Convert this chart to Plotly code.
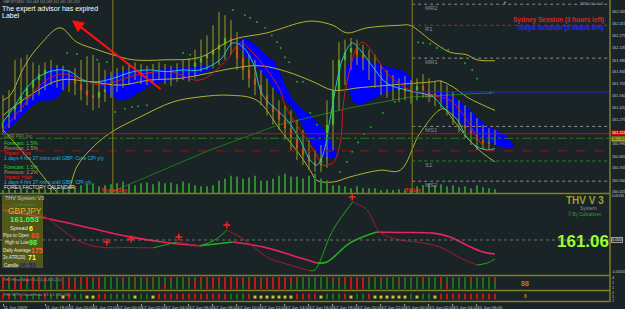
import plotly.graph_objects as go

# ---------------- DATA ----------------
bar_idx = list(range(83))
opens = [161.18,161.25,161.33,161.45,161.56,161.66,161.75,161.82,161.87,161.83,
         161.80,161.73,161.77,161.70,161.63,161.57,161.54,161.61,161.68,161.73,
         161.77,161.82,161.86,161.85,161.81,161.83,161.87,161.85,161.80,161.83,
         161.87,161.85,161.89,161.96,162.01,162.05,162.11,162.17,162.25,162.17,
         162.01,161.87,161.77,161.69,161.57,161.45,161.37,161.28,161.18,161.06,
         160.94,160.86,160.78,160.74,160.82,161.22,161.63,161.99,162.08,162.13,
         162.05,161.96,161.87,161.77,161.70,161.66,161.63,161.66,161.61,161.63,
         161.68,161.63,161.58,161.56,161.51,161.42,161.33,161.28,161.18,161.11,
         161.04,161.00,161.09]
closes = [161.25,161.33,161.45,161.56,161.66,161.75,161.82,161.87,161.83,161.80,
          161.73,161.77,161.70,161.63,161.57,161.54,161.61,161.68,161.73,161.77,
          161.82,161.86,161.85,161.81,161.83,161.87,161.85,161.80,161.83,161.87,
          161.85,161.89,161.96,162.01,162.05,162.11,162.17,162.25,162.17,162.01,
          161.87,161.77,161.69,161.57,161.45,161.37,161.28,161.18,161.06,160.94,
          160.86,160.78,160.74,160.82,161.22,161.63,161.99,162.08,162.13,162.05,
          161.96,161.87,161.77,161.70,161.66,161.63,161.66,161.61,161.63,161.68,
          161.63,161.58,161.56,161.51,161.42,161.33,161.28,161.18,161.11,161.04,
          161.00,161.09,161.05]
highs = [161.57,161.63,161.99,162.01,162.05,161.96,161.93,161.96,161.99,161.93,
         161.92,161.87,161.89,161.99,162.01,162.05,161.96,161.87,161.85,161.89,
         161.92,161.95,161.96,161.94,161.92,161.94,161.96,161.94,161.92,161.95,
         161.99,162.01,162.11,162.23,162.28,162.40,162.56,162.52,162.46,162.32,
         162.23,162.05,161.99,161.87,161.77,161.66,161.51,161.45,161.39,161.28,
         161.16,161.04,160.92,160.98,161.51,161.99,162.20,162.23,162.25,162.23,
         162.17,162.11,162.05,161.93,161.87,161.81,161.77,161.80,161.75,161.77,
         161.82,161.77,161.73,161.75,161.69,161.61,161.51,161.45,161.37,161.30,
         161.22,161.18,161.16]
lows = [161.10,161.18,161.28,161.37,161.45,161.51,161.57,161.63,161.69,161.66,
        161.63,161.61,161.57,161.51,161.45,161.39,161.42,161.49,161.54,161.61,
        161.66,161.69,161.75,161.70,161.69,161.73,161.75,161.70,161.68,161.73,
        161.75,161.73,161.77,161.85,161.87,161.89,161.93,161.99,162.05,161.87,
        161.75,161.66,161.57,161.45,161.33,161.22,161.16,161.04,160.92,160.80,
        160.74,160.68,160.66,160.66,160.71,160.92,161.39,161.69,161.87,161.93,
        161.87,161.75,161.66,161.57,161.54,161.51,161.49,161.51,161.47,161.51,
        161.54,161.49,161.44,161.42,161.33,161.22,161.13,161.06,160.98,160.92,
        160.92,160.92,160.98]
volumes = [30,40,30,50,40,30,50,40,60,40,50,60,70,
           80,90,100,70,80,90,100,120,90,80,100,110,90,120,100,110,90,120,100,80,
           70,70,80,130,150,180,170,150,160,180,130,130,150,180,200,170,170,150,180,200,
           150,130,80,80,70,50,70,50,50,50,30,40,30,40,
           40,50,70,80,100,80,90,70,80,60,70,50,80,60,50,40]

# moving averages (bar index, price)
ma_fast_x = [0,2,4,6.2,9,11.2,13.3,15.7,18.3,21.7,24.5,27.3,30,32.8,36.2,38.3,40,41.7,43.3,47.3,49.5,51.2,52.3,53.3,54.5,55.7,56.7,58.2,59.5,61.7,64,67.3,71.7,73.3,75.7,77.3,79,80.8,82]
ma_fast_y = [161.25,161.45,161.66,161.80,161.87,161.85,161.75,161.73,161.77,161.85,161.87,161.85,161.87,161.87,161.99,162.19,162.14,161.95,161.57,161.28,161.04,160.80,160.74,160.86,161.28,161.75,162.02,162.19,162.11,161.90,161.71,161.63,161.55,161.43,161.28,161.07,160.96,160.92,160.94]
ma_slow_x = [0,2.8,6.2,9.5,12.8,16.2,19.5,22.8,27.8,32.8,37.3,39.5,41.7,44,46.2,47,49.5,52.3,53.3,55,56.2,56.8,57.8,59,60,61.7,64,67.8,71.2,74.5,77.3,79,80.7,82]
ma_slow_y = [161.16,161.39,161.69,161.82,161.77,161.69,161.75,161.82,161.85,161.75,161.99,162.19,162.07,161.87,161.63,161.45,161.16,160.86,160.74,160.77,161.00,161.51,161.87,162.14,162.20,162.07,161.83,161.63,161.57,161.51,161.28,161.07,160.92,160.92]
ma_long_x = [15,24.5,34.5,46,57.8,68,82]
ma_long_y = [160.33,160.62,160.92,161.22,161.42,161.55,161.60]

# Bollinger bands
bb_up_x = [0,1.2,3.7,6.2,9.5,12.3,15.7,18.3,21.7,27,32.8,38.3,44,49.5,51.7,55,57.3,60.7,66.2,67.8,71.7,74.5,77.3,79,82]
bb_up_y = [161.51,161.57,161.93,162.17,162.37,162.20,162.11,162.05,161.99,161.99,162.02,162.23,162.31,162.43,162.45,162.40,162.31,162.37,162.40,162.40,162.20,162.08,162.05,161.99,161.98]
bb_mid_x = [0,4.5,9.5,14.5,19.5,24.5,29.5,32.8,38.3,42.8,47.3,51.7,55,59.5,66.2,71.7,72.8,75,77.3,79.5,82]
bb_mid_y = [161.33,161.57,161.75,161.73,161.69,161.75,161.77,161.81,161.89,161.92,161.85,161.73,161.63,161.66,161.70,161.73,161.74,161.67,161.55,161.47,161.39]
bb_lo_x = [0,4.5,8.7,10.3,12.3,14.5,17.8,22.8,28.3,32.8,37.8,42.3,46.2,49.5,51.2,52.3,55,57.8,62.8,66.2,69.5,73.3,75,77.3,80,82]
bb_lo_y = [161.16,160.80,160.44,160.36,160.72,160.92,161.12,161.31,161.49,161.55,161.57,161.51,161.16,160.86,160.68,160.56,160.54,160.60,160.68,160.68,161.12,161.41,161.28,161.07,160.88,160.78]

# parabolic SAR dots
sar_x = [10.7,12.3,14,15.7,17.3,18.7,20.3,21.5,22.5,24,30,31.2,32.3,38.3,40.3,41.2,42.3,43.7,44.8,45.7,46.3,47,47.7,49,50,51.2,52.3,56.2,57.3,58.2,59.2,60.2,61.3,63.3,65.3,69.2,70,71.2,72.3,73.2,74.2,76.2,77,78.2,79,81.2]
sar_y = [162.07,162.06,162.02,161.99,161.96,161.37,161.41,161.43,161.44,161.45,162.07,162.05,162.01,162.58,162.52,162.49,162.44,162.37,162.28,162.20,162.13,162.02,161.96,161.73,161.73,161.36,161.22,160.66,160.78,160.90,161.01,161.11,161.19,161.36,161.49,162.20,162.19,162.18,162.13,162.13,162.11,162.01,161.95,161.87,161.77,161.60]

# blue cloud segments: (x, top, bottom)
clouds = [
    ([0,1.2,2.8,4.5,5.7,6.7,7.8,9,10,11.2,11.8],
     [161.25,161.33,161.45,161.57,161.63,161.75,161.89,161.90,161.89,161.85,161.80],
     [161.10,161.18,161.30,161.42,161.49,161.51,161.51,161.54,161.63,161.75,161.77]),
    ([16.2,17.8,19.5,21.2,22.8,24.5,27.8,31.2,33.7,34.8],
     [161.73,161.81,161.85,161.87,161.87,161.87,161.89,161.90,161.92,161.90],
     [161.70,161.57,161.51,161.54,161.61,161.69,161.75,161.77,161.85,161.89]),
    ([39.2,40.3,42,43.7,45.3,47,48.3,49.5,51.2,52.8,54.5,55.7],
     [162.20,162.25,162.17,162.05,161.96,161.69,161.51,161.42,161.33,161.22,161.04,160.86],
     [162.17,162.05,161.93,161.80,161.63,161.52,161.42,161.28,161.02,160.86,160.82,160.84]),
    ([57,58.2,59.5,61.2,62.8,64.8,67,68.2],
     [161.87,162.01,162.02,161.96,161.93,161.89,161.85,161.75],
     [161.85,161.51,161.45,161.51,161.57,161.63,161.66,161.73]),
    ([72.3,73.7,75.3,77,78.7,80.3,82,83.7,85],
     [161.61,161.60,161.54,161.45,161.33,161.22,161.16,161.10,160.98],
     [161.57,161.45,161.33,161.22,161.10,161.04,160.98,160.94,160.96]),
]

# horizontal levels
pivot_names = ["MR2", "R1", "MR1", "PP", "MS1", "S1", "MS2"]
pivot_prices = [162.65, 162.40, 162.01, 161.61, 161.20, 160.79, 160.55]
pivot_colors = ["#8c8c8c", "#a03030", "#8c8c8c", "#2020ff", "#8c8c8c", "#1f8f1f", "#8c8c8c"]
pivot_dash = ["dot", "dot", "dot", "solid", "dot", "dot", "dot"]
ask_price = 161.113
bid_price = 161.053
open_level = 161.06
low_level = 160.91
yesterday_i = 18.3
today_i = 68.2

price_ticks = [162.565,162.415,162.275,162.135,161.985,161.845,161.705,161.560,161.420,161.275,
               160.990,160.845,160.705,160.560,160.425]

# oscillator
slow_x = [0,7,14.5,21.2,27.8,32.8,38.3,44,49.5,52.3,54,57.8,62.3,66.2,71.7,74.5,77.3,80,82]
slow_v = [0.00087,0.00064,0.00035,0.00009,-0.00009,-0.00017,-0.00006,-0.00023,-0.00052,-0.00067,
          -0.00064,-0.00009,0.00023,0.00022,0.00020,0.00009,-0.00015,-0.00035,-0.00041]
fast_x = [0,7,9.5,12.3,15.7,21.2,25,29,32.8,35.3,37.3,40.3,44,47.8,51.2,52,55,58.3,60.7,62.8,66.2,69,72.8,76.2,79,80.7,82]
fast_v = [0.00102,0.00067,0.00035,0.0,-0.00020,-0.00022,-0.00023,-0.00006,-0.00017,0.0,0.00029,0.0,
          -0.00050,-0.00073,-0.00090,-0.00087,0.00029,0.00111,0.00087,0.00023,0.0,-0.00006,-0.00020,
          -0.00052,-0.00073,-0.00067,-0.00055]
sig_x = [17.3, 21.3, 29.3, 37.3, 58.2]
sig_v = [-0.00006, 0.00003, 0.00009, 0.00044, 0.00125]
osc_ticks = [0.00130, -0.00094]
osc_ticktext = ["0.00134", "-0.00165"]

# heat-map rows (top->bottom) and cloud histo
heat_rows = [
    "rrrgrrrrgg" "rrgrrrrggg" "rgggrgggrg" "gggrrrrrrr" "rgrrrrrrrr" "gggggrgrrr" "rrgrgggggg" "rggrggggrg" "ggr",
    "rrgrrrgrgg" "grrrrgrggg" "ggrggrgggg" "grrrgrrrrr" "rrrgrrrrrg" "ggggggrrrr" "rgggggrggg" "gggrgggggg" "ggg",
    "rgrrgrrggg" "rrrgrgrggg" "gggggggrgg" "ggrgrrgrrr" "grrrrrrrgg" "ggggggggrr" "rggggggggg" "ggggrggggg" "ggg",
]
histo_row = ("rrgrgggrgg" "yrggyyrrgg" "ggyggyrrrr" "rrrrrrrrgg" "gryyyyyyyr"
             "rrrygggryg" "gryyyyyygy" "ggyrrrrrrr" "rrr")

time_idx = [0] + [7 + 4 * k for k in range(19)]
time_labels = ["11 Jun 2009", "11 Jun 18:00", "11 Jun 20:00", "11 Jun 22:00", "12 Jun 00:00",
               "12 Jun 02:00", "12 Jun 04:00", "12 Jun 06:00", "12 Jun 08:00", "12 Jun 10:00",
               "12 Jun 12:00", "12 Jun 14:00", "12 Jun 16:00", "12 Jun 18:00", "12 Jun 20:00",
               "12 Jun 22:00", "15 Jun 00:00", "15 Jun 02:00", "15 Jun 04:00", "15 Jun 06:00"]

# ---------------- FIGURE ----------------
BG = "#1a2326"
OLIVE = "#80801e"
FONT = "Liberation Sans, Arial, sans-serif"
PW, PH = 610.0, 302.0
XMAX = 101.17


def X(px):
    return px / PW


def Y(py):
    return (PH - py) / PH


fig = go.Figure()

for xs, top, bot in clouds:
    fig.add_trace(go.Scatter(x=xs, y=bot, mode="lines", line=dict(width=0.5, color="#0000ff"),
                             hoverinfo="skip", showlegend=False))
    fig.add_trace(go.Scatter(x=xs, y=top, mode="lines", line=dict(width=0.5, color="#0000ff"),
                             fill="tonexty", fillcolor="#0000ff", hoverinfo="skip", showlegend=False))

for xs, ys in [(bb_up_x, bb_up_y), (bb_mid_x, bb_mid_y), (bb_lo_x, bb_lo_y)]:
    fig.add_trace(go.Scatter(x=xs, y=ys, mode="lines", line=dict(width=1, color="#b4b42a", shape="spline"),
                             showlegend=False))
fig.add_trace(go.Scatter(x=ma_long_x, y=ma_long_y, mode="lines", line=dict(width=1, color="#1d7a1d"),
                         showlegend=False))

fig.add_trace(go.Bar(x=bar_idx, y=volumes, yaxis="y6", marker=dict(color="#2f8a2f", line=dict(width=0)),
                     width=0.25, showlegend=False))

wx, wy = [], []
for i, h, l in zip(bar_idx, highs, lows):
    wx += [i, i, None]
    wy += [l, h, None]
fig.add_trace(go.Scatter(x=wx, y=wy, mode="lines", line=dict(width=1, color="#9c9c26"), showlegend=False))
ux = [i for i, o, c in zip(bar_idx, opens, closes) if c >= o]
uo = [o for o, c in zip(opens, closes) if c >= o]
uc = [c - o for o, c in zip(opens, closes) if c >= o]
dx = [i for i, o, c in zip(bar_idx, opens, closes) if c < o]
do = [o for o, c in zip(opens, closes) if c < o]
dc = [c - o for o, c in zip(opens, closes) if c < o]
fig.add_trace(go.Bar(x=ux, y=uc, base=uo, width=0.38, marker=dict(color="#18c818", line=dict(width=0)),
                     showlegend=False))
fig.add_trace(go.Bar(x=dx, y=dc, base=do, width=0.38, marker=dict(color="#e01818", line=dict(width=0)),
                     showlegend=False))

fig.add_trace(go.Scatter(x=ma_slow_x, y=ma_slow_y, mode="lines", line=dict(width=1, color="#c81e1e", shape="spline"),
                         showlegend=False))
fig.add_trace(go.Scatter(x=ma_fast_x, y=ma_fast_y, mode="lines", line=dict(width=1, color="#1ec8c8", shape="spline"),
                         showlegend=False))
fig.add_trace(go.Scatter(x=sar_x, y=sar_y, mode="markers", marker=dict(size=2, color="#22a822"),
                         showlegend=False))


def colored(xs, vs, up, down, width):
    start = 0
    n = len(xs)
    while start < n - 1:
        rising = vs[start + 1] >= vs[start]
        end = start + 1
        while end < n - 1 and (vs[end + 1] >= vs[end]) == rising:
            end += 1
        fig.add_trace(go.Scatter(x=xs[start:end + 1], y=vs[start:end + 1], mode="lines", xaxis="x2", yaxis="y2",
                                 line=dict(width=width, color=up if rising else down, shape="spline"),
                                 showlegend=False))
        start = end


colored(slow_x, slow_v, "#20b020", "#e8245c", 1.6)
colored(fast_x, fast_v, "#1ca81c", "#a01c2c", 1)
fig.add_trace(go.Scatter(x=sig_x, y=sig_v, mode="markers", xaxis="x2", yaxis="y2",
                         marker=dict(symbol="cross-thin", size=5, line=dict(width=1.5, color="#ff2020")),
                         showlegend=False))

cmap = {"r": "#c01818", "g": "#1c6e1c", "y": "#c8c820"}
for r, row in enumerate(heat_rows):
    yv = 3 - r
    fig.add_trace(go.Scatter(x=bar_idx, y=[yv] * len(row), mode="markers", xaxis="x3", yaxis="y3",
                             marker=dict(symbol="line-ns", size=3.5,
                                         line=dict(width=2, color=[cmap[c] for c in row])),
                             showlegend=False))
hx_bar = [i for i, c in zip(bar_idx, histo_row) if c != "y"]
hc_bar = [cmap[c] for c in histo_row if c != "y"]
hx_sq = [i for i, c in zip(bar_idx, histo_row) if c == "y"]
fig.add_trace(go.Scatter(x=hx_bar, y=[1] * len(hx_bar), mode="markers", xaxis="x4", yaxis="y4",
                         marker=dict(symbol="line-ns", size=4, line=dict(width=2, color=hc_bar)),
                         showlegend=False))
fig.add_trace(go.Scatter(x=hx_sq, y=[0.9] * len(hx_sq), mode="markers", xaxis="x4", yaxis="y4",
                         marker=dict(symbol="square", size=3, color="#c8c820", line=dict(width=0)),
                         showlegend=False))

# ---------------- LAYOUT ----------------
tickfont = dict(size=3.8, color="#c8c8c8", family=FONT)
yax_common = dict(side="right", showgrid=False, zeroline=False, ticks="", automargin=False)
fig.update_layout(
    width=625, height=309, autosize=False,
    margin=dict(l=0, r=15, t=0, b=7, pad=1),
    paper_bgcolor=BG, plot_bgcolor=BG,
    showlegend=False, barmode="overlay",
    xaxis=dict(domain=[0, 1], range=[-0.5, XMAX], visible=False, anchor="y"),
    xaxis2=dict(matches="x", visible=False, anchor="y2"),
    xaxis3=dict(matches="x", visible=False, anchor="y3"),
    xaxis4=dict(matches="x", anchor="y4", showgrid=False, zeroline=False, showline=False,
                tickvals=time_idx, ticktext=time_labels, ticks="outside", ticklen=2, tickcolor="#a0a0a0",
                ticklabelposition="outside right", tickangle=0, automargin=False,
                tickfont=dict(size=4.3, color="#c8c8c8", family=FONT)),
    yaxis=dict(domain=[Y(193), 1], range=[160.41, 162.70], tickvals=price_ticks,
               ticktext=[f"{v:.3f}" for v in price_ticks], tickfont=tickfont, **yax_common),
    yaxis6=dict(overlaying="y", range=[0, 2000], visible=False),
    yaxis2=dict(domain=[Y(275), Y(194)], range=[-0.00102, 0.00134], tickvals=osc_ticks,
                ticktext=osc_ticktext, tickfont=dict(size=3.3, color="#c8c8c8", family=FONT), **yax_common),
    yaxis3=dict(domain=[Y(290), Y(276)], range=[0, 4], tickvals=[3.5, 2, 0.8], ticktext=["4", "1", "1"],
                tickfont=tickfont, **yax_common),
    yaxis4=dict(domain=[0, Y(291)], range=[0, 2], tickvals=[1.7, 1, 0.3], ticktext=["2", "1", "1"],
                tickfont=tickfont, **yax_common),
)

shapes = []
shapes.append(dict(type="line", xref="x", yref="y", x0=-0.5, x1=XMAX, y0=ask_price, y1=ask_price,
                   line=dict(color="#b01818", width=1)))
shapes.append(dict(type="line", xref="x", yref="y", x0=-0.5, x1=XMAX, y0=open_level, y1=open_level,
                   line=dict(color="#1f7f1f", width=1, dash="dashdot")))
shapes.append(dict(type="line", xref="x", yref="y", x0=-0.5, x1=XMAX, y0=low_level, y1=low_level,
                   line=dict(color="#8a1c1c", width=1, dash="dash")))
for p, c, d in zip(pivot_prices, pivot_colors, pivot_dash):
    shapes.append(dict(type="line", xref="x", yref="y", x0=today_i, x1=XMAX, y0=p, y1=p,
                       line=dict(color=c, width=1, dash=d)))
for sx in (yesterday_i, today_i):
    shapes.append(dict(type="line", xref="x", yref="paper", x0=sx, x1=sx, y0=Y(193), y1=1,
                       line=dict(color=OLIVE, width=1)))
shapes.append(dict(type="line", xref="x2", yref="y2", x0=-0.5, x1=XMAX, y0=0, y1=0,
                   line=dict(color="#707070", width=1, dash="dot")))
for py in (193.5, 275.5, 290.5, 301.5):
    shapes.append(dict(type="line", xref="paper", yref="paper", x0=0, x1=1, y0=Y(py), y1=Y(py),
                       line=dict(color=OLIVE, width=1.5)))
shapes.append(dict(type="line", xref="paper", yref="paper", x0=1, x1=1, y0=0, y1=1,
                   line=dict(color=OLIVE, width=1.5)))
shapes.append(dict(type="rect", xref="paper", yref="paper", x0=X(2), x1=X(43), y0=Y(268), y1=Y(195),
                   fillcolor="rgba(120,120,20,0.62)", line=dict(width=0), layer="above"))
fig.update_layout(shapes=shapes)


def txt(s, px, py, size, color, anchor="left", bold=False, bg=None, border=None):
    if bold:
        s = f"<b>{s}</b>"
    kw = {}
    if bg:
        kw["bgcolor"] = bg
    if border:
        kw["bordercolor"] = border
        kw["borderwidth"] = 1
    fig.add_annotation(text=s, x=X(px), y=Y(py), xref="paper", yref="paper", xanchor=anchor,
                       yanchor="middle", showarrow=False, borderpad=0,
                       font=dict(size=size, color=color, family=FONT), **kw)


txt("GBPJPY,M30  161.068 161.084 161.031 161.053", 2, 2.2, 3.5, "#9a9a9a")
txt("The expert advisor has expired", 1, 8.8, 7, "#ffffff")
txt("Label", 1, 15.8, 7, "#ffffff")
txt("TMV 04 v0.3", 604, 4, 4, "#9a9a9a", anchor="right")
txt("▼", 505, 2, 4, "#a0a0a0", anchor="center")
txt("Sydney Session (3 hours left)", 605, 20, 6.5, "#e02020", anchor="right", bold=True)
txt("Tokyo Session (5 hours left)", 605, 28, 6.5, "#2a2aff", anchor="right", bold=True)

for name, p in zip(pivot_names, pivot_prices):
    fig.add_annotation(text=name, x=today_i + 2, y=p, xref="x", yref="y", xanchor="left", yanchor="top",
                       showarrow=False, borderpad=0, font=dict(size=6, color="#8c8c8c", family=FONT))

news = [("GBP PPI Inc", 136, "#6f8f4f"), ("Forecast: 1.5%", 143, "#30d030"), ("Previous: 1.5%", 148, "#c09060"),
        ("Impact: Low", 153, "#e02020"), ("1 days 4 hrs 27 mins until GBP: Core CPI y/y", 158, "#20b8e0"),
        ("Forecast: 1.5%", 167, "#30d030"), ("Previous: 2.2%", 172, "#c09060"), ("Impact: High", 177, "#e02020"),
        ("1 days 4 hrs 27 mins until GBP: CPI y/y", 182, "#20b8e0"), ("FOREX FACTORY CALENDAR", 187, "#e8e8e8")]
for s, py, c in news:
    txt(s, 3, py, 5, c)
txt("Yesterday", 100, 190, 5.5, "#ff2020", bold=True)
txt("Today", 404, 190, 5.5, "#ff2020", bold=True)

txt("161.113", 611, 133, 3.8, "#ffffff", bg="#c81010")
txt("161.053", 611, 138.7, 3.8, "#101010", bg="#a8a830")
txt("0.000", 611, 240, 3.8, "#e0e0e0", bg="#303030", border="#a0a0a0")

txt("THV System V3", 4, 198, 5.5, "#c8c8c8")
txt("© Cobraforex", 10, 204, 4, "#30a030")
txt("GBPJPY", 7, 211, 8.5, "#e0b030")
txt("161.053", 9, 220, 8, "#30ff60", bold=True)
txt("Spread", 9, 228, 5.5, "#e8e8e8")
txt("6", 28, 228, 7, "#ffff40", bold=True)
txt("Pips to Open", 2, 235, 4.5, "#e8e8e8")
txt("63", 30, 235, 7, "#ff5020", bold=True)
txt("High to Low", 4, 242.5, 4.5, "#e8e8e8")
txt("98", 28, 242.5, 7, "#50ff50", bold=True)
txt("Daily Average", 2, 250, 4.5, "#e8e8e8")
txt("175", 30, 250, 7, "#ff6030", bold=True)
txt("3x ATR(20)", 2, 257.5, 4.5, "#e8e8e8")
txt("71", 27, 257.5, 7, "#ffff40", bold=True)
txt("Candle", 3, 265, 4.5, "#e8e8e8")
txt("26:53", 18, 265, 6.5, "#202090", bold=True)

txt("THV V 3", 585, 200, 10, "#a0a030", anchor="center", bold=True)
txt("System", 588, 207.5, 5, "#909090", anchor="center")
txt("© By Cobraforex", 585, 213.5, 4.5, "#30a030", anchor="center")
txt("161.06", 583, 241, 17, "#99ff33", anchor="center", bold=True)

txt("THV Heat Map V1.0 (5,6,8,3,2,5)", 2, 279.5, 4, "#9a9a9a")
txt("THV MTF Cloud Histo V1.1.1 (30,240)", 2, 294, 4, "#9a9a9a")
txt("88", 525, 283, 7, "#b08030", anchor="center", bold=True)
txt("8", 525, 296, 5, "#b08030", anchor="center", bold=True)

fig.add_annotation(x=11.5, y=162.46, ax=26.5, ay=161.63, xref="x", yref="y", axref="x", ayref="y",
                   text="", showarrow=True, arrowhead=2, arrowsize=1.2, arrowwidth=2, arrowcolor="#ff1010")

fig.write_html("out.html")
